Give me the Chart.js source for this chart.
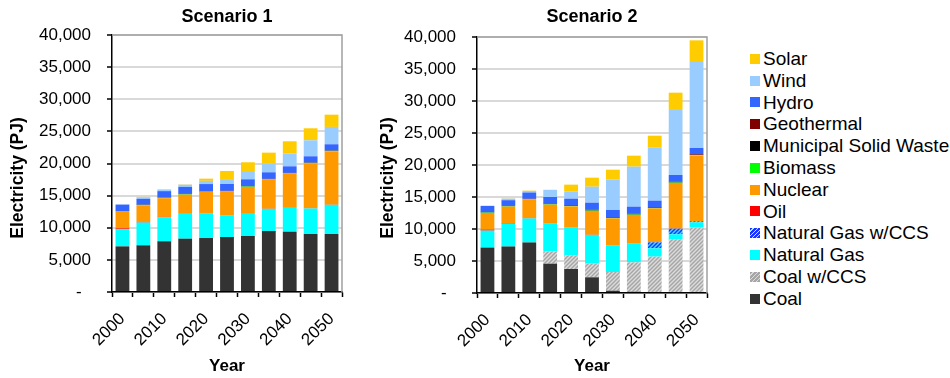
<!DOCTYPE html>
<html>
<head>
<meta charset="utf-8">
<script src="https://cdn.jsdelivr.net/npm/chart.js@4/dist/chart.umd.min.js"></script>
<style>
  html, body { margin: 0; padding: 0; background: #fff; }
  body { width: 950px; height: 378px; position: relative; overflow: hidden; font-family: "Liberation Sans", Arial, sans-serif; }
  canvas { position: absolute; top: 0; }
  #c1 { left: 0; }
  #c2 { left: 370px; }
  #legend { position: absolute; left: 750px; top: 48px; list-style: none; margin: 0; padding: 0; }
  #legend li { height: 21.8px; line-height: 21.8px; font-size: 19px; color: #000; white-space: nowrap; display: flex; align-items: center; }
  #legend .sw { width: 10px; height: 10px; margin-right: 3px; flex: none; }
</style>
</head>
<body>
<canvas id="c1" width="370" height="378"></canvas>
<canvas id="c2" width="370" height="378"></canvas>
<ul id="legend"></ul>
<script>
const YEARS = ["2000", "2005", "2010", "2015", "2020", "2025", "2030", "2035", "2040", "2045", "2050"];

// Scenario 1, PJ
const coal1     = [7100, 7270, 7900, 8300, 8400, 8560, 8720, 9500, 9390, 9030, 9030];
const coalCcs1  = [0, 0, 0, 0, 0, 0, 0, 0, 0, 0, 0];
const gas1      = [2650, 3550, 3750, 3870, 3870, 3350, 3450, 3440, 3710, 3970, 4540];
const gasCcs1   = [0, 0, 0, 0, 0, 0, 0, 0, 0, 0, 0];
const oil1      = [150, 80, 50, 30, 30, 30, 30, 30, 30, 30, 30];
const nuclear1  = [2600, 2600, 2900, 2950, 3270, 3680, 4150, 4520, 5290, 7000, 8300];
const biomass1  = [50, 50, 60, 60, 60, 60, 60, 60, 60, 60, 60];
const msw1      = [30, 30, 30, 30, 30, 30, 30, 30, 30, 30, 30];
const geo1      = [20, 20, 30, 30, 30, 30, 30, 30, 30, 30, 30];
const hydro1    = [1000, 900, 980, 1080, 1110, 1070, 1070, 1020, 1020, 970, 970];
const wind1     = [50, 250, 250, 350, 500, 630, 1140, 1350, 1980, 2490, 2700];
const solar1    = [0, 50, 50, 50, 340, 1400, 1510, 1710, 1920, 1870, 1910];

// Scenario 2, PJ
const coal2     = [7100, 7270, 7900, 4580, 3750, 2450, 360, 200, 0, 0, 0];
const coalCcs2  = [0, 0, 0, 1930, 2140, 2130, 2920, 4590, 5680, 8390, 10210];
const gas2      = [2650, 3550, 3750, 4400, 4340, 4500, 4140, 2940, 1300, 780, 830];
const gasCcs2   = [0, 0, 0, 0, 0, 0, 0, 0, 940, 880, 160];
const oil2      = [150, 80, 50, 30, 30, 30, 30, 30, 30, 30, 30];
const nuclear2  = [2600, 2600, 2900, 2860, 3280, 3700, 4220, 4430, 5280, 7110, 10270];
const biomass2  = [50, 50, 60, 60, 60, 60, 60, 60, 60, 60, 60];
const msw2      = [30, 30, 30, 30, 30, 30, 30, 30, 30, 30, 30];
const geo2      = [20, 20, 30, 100, 100, 100, 100, 100, 100, 100, 100];
const hydro2    = [1000, 900, 980, 1010, 1010, 1110, 1110, 1110, 1010, 1060, 970];
const wind2     = [50, 250, 250, 1100, 1150, 2500, 4740, 6250, 8270, 10160, 13590];
const solar2    = [0, 50, 50, 30, 1040, 1410, 1560, 1720, 1880, 2700, 3230];

const FONT = "'Liberation Sans', Arial, sans-serif";

function stripes(bg, fg) {
  const c = document.createElement("canvas");
  c.width = c.height = 4;
  const g = c.getContext("2d");
  g.fillStyle = bg;
  g.fillRect(0, 0, 4, 4);
  g.strokeStyle = fg;
  g.lineWidth = 1.4;
  g.beginPath();
  g.moveTo(0, 4); g.lineTo(4, 0);
  g.moveTo(-2, 2); g.lineTo(2, -2);
  g.moveTo(2, 6); g.lineTo(6, 2);
  g.stroke();
  return g.createPattern(c, "repeat");
}

// bottom of the stack first
const SERIES = [
  { name: "Coal", color: "#333333", s1: coal1, s2: coal2 },
  { name: "Coal w/CCS", color: stripes("#a6a6a6", "#dcdcdc"), css: "repeating-linear-gradient(135deg,#a6a6a6 0 2px,#dcdcdc 2px 3px)", s1: coalCcs1, s2: coalCcs2 },
  { name: "Natural Gas", color: "#00ffff", s1: gas1, s2: gas2 },
  { name: "Natural Gas w/CCS", color: stripes("#1a33ff", "#33ddff"), css: "repeating-linear-gradient(135deg,#1a33ff 0 2px,#9fe6ff 2px 3px)", s1: gasCcs1, s2: gasCcs2 },
  { name: "Oil", color: "#ff0000", s1: oil1, s2: oil2 },
  { name: "Nuclear", color: "#ff9900", s1: nuclear1, s2: nuclear2 },
  { name: "Biomass", color: "#00ff00", s1: biomass1, s2: biomass2 },
  { name: "Municipal Solid Waste", color: "#000000", s1: msw1, s2: msw2 },
  { name: "Geothermal", color: "#800000", s1: geo1, s2: geo2 },
  { name: "Hydro", color: "#3366ff", s1: hydro1, s2: hydro2 },
  { name: "Wind", color: "#99ccff", s1: wind1, s2: wind2 },
  { name: "Solar", color: "#ffcc00", s1: solar1, s2: solar2 }
];

// y title and the grey plot frame
const panelExtras = {
  id: "panelExtras",
  afterDraw(chart, args, opts) {
    const { ctx, chartArea: a } = chart;
    ctx.save();
    ctx.strokeStyle = "#a0a0a0";
    ctx.lineWidth = 1.5;
    ctx.beginPath();
    ctx.moveTo(a.left, a.top);
    ctx.lineTo(a.right, a.top);
    ctx.lineTo(a.right, a.bottom);
    ctx.stroke();
    ctx.translate(opts.titleX, opts.titleY);
    ctx.rotate(-Math.PI / 2);
    ctx.font = "bold 17.5px " + FONT;
    ctx.fillStyle = "#000";
    ctx.textAlign = "center";
    ctx.textBaseline = "middle";
    ctx.fillText("Electricity (PJ)", 0, 0);
    ctx.restore();
  }
};

function makeChart(id, key, title, cfg) {
  return new Chart(document.getElementById(id), {
    type: "bar",
    data: {
      labels: YEARS,
      datasets: SERIES.map(s => ({
        label: s.name,
        data: s[key],
        backgroundColor: s.color,
        borderWidth: 0,
        barPercentage: 0.66,
        categoryPercentage: 1
      }))
    },
    options: {
      responsive: false,
      animation: false,
      devicePixelRatio: 1,
      layout: { padding: { left: 0, right: cfg.padRight, top: 0, bottom: 0 } },
      plugins: {
        legend: { display: false },
        tooltip: { enabled: false },
        title: {
          display: true,
          text: title,
          fullSize: false,
          color: "#000",
          font: { family: FONT, size: 18, weight: "bold" },
          padding: { top: 6, bottom: cfg.titleGap }
        },
        panelExtras: { titleX: 18, titleY: 178 }
      },
      scales: {
        x: {
          stacked: true,
          offset: true,
          border: { color: "#000", width: 1.5 },
          grid: { offset: true, drawOnChartArea: false, drawTicks: true, tickLength: 5, tickColor: "#000", tickWidth: 1.5 },
          ticks: {
            autoSkip: false,
            minRotation: 45,
            maxRotation: 45,
            padding: 12,
            color: "#000",
            font: { family: FONT, size: 17 },
            callback: (v, i) => (i % 2 === 0 ? YEARS[i] : "")
          },
          title: {
            display: true,
            text: "Year",
            color: "#000",
            font: { family: FONT, size: 17, weight: "bold" },
            padding: { top: 0, bottom: 1 }
          },
          afterFit: s => { s.height = cfg.xHeight; }
        },
        y: {
          stacked: true,
          min: 0,
          max: 40000,
          border: { color: "#000", width: 1.5 },
          grid: { color: "#d9d9d9", lineWidth: 2, tickLength: 5, tickColor: "#000", tickWidth: 1.5 },
          ticks: {
            stepSize: 5000,
            padding: 16,
            color: "#000",
            font: { family: FONT, size: 17 },
            callback: v => (v === 0 ? "-  " : v.toLocaleString("en-US"))
          },
          afterFit: s => { s.width = cfg.yWidth; }
        }
      }
    },
    plugins: [panelExtras]
  });
}

makeChart("c1", "s1", "Scenario 1", { padRight: 28, yWidth: 112, xHeight: 86, titleGap: 7.4 });
makeChart("c2", "s2", "Scenario 2", { padRight: 33, yWidth: 107, xHeight: 85, titleGap: 9.4 });

// legend lists the top of the stack first
const legend = document.getElementById("legend");
SERIES.slice().reverse().forEach(s => {
  const li = document.createElement("li");
  const sw = document.createElement("span");
  sw.className = "sw";
  sw.style.background = s.css || s.color;
  li.appendChild(sw);
  li.appendChild(document.createTextNode(s.name));
  legend.appendChild(li);
});
</script>
</body>
</html>
